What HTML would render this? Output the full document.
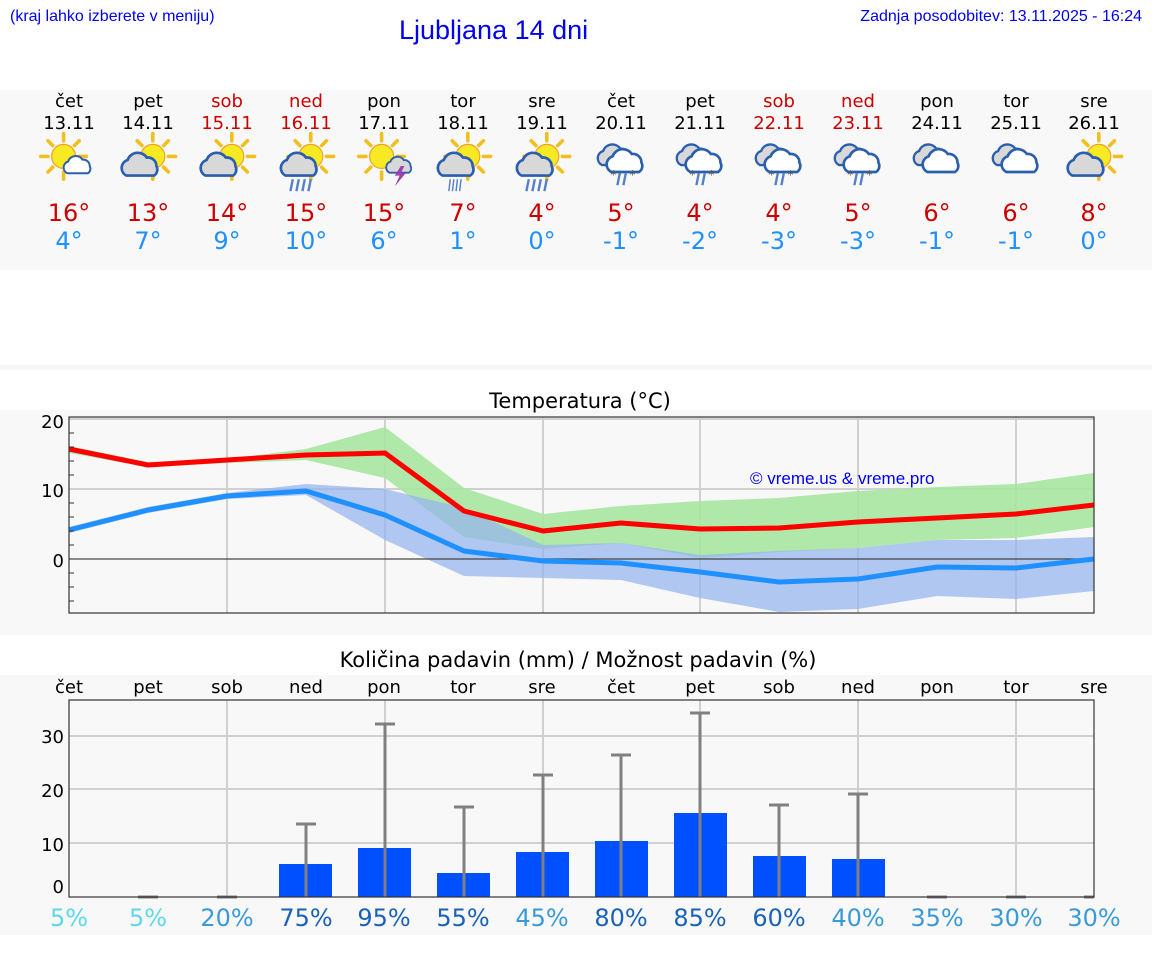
<!DOCTYPE html>
<html><head><meta charset="utf-8"><style>
body{margin:0;background:#fff;width:1152px;height:975px;overflow:hidden;font-family:"DejaVu Sans","Liberation Sans",sans-serif}
svg{position:absolute;left:0;top:0}
</style></head><body>
<svg width="1152" height="975" viewBox="0 0 1152 975" xmlns="http://www.w3.org/2000/svg">
<defs>
<g id="sun"><g stroke="#f0c020" stroke-width="3" stroke-linecap="round">
<line x1="0" y1="-19" x2="0" y2="-13"/><line x1="0" y1="13" x2="0" y2="19"/><line x1="-19" y1="0" x2="-13" y2="0"/><line x1="13" y1="0" x2="19" y2="0"/>
<line x1="-13" y1="-13" x2="-9" y2="-9"/><line x1="13" y1="13" x2="9" y2="9"/><line x1="-13" y1="13" x2="-9" y2="9"/><line x1="13" y1="-13" x2="9" y2="-9"/></g>
<circle r="10" fill="#f7ea22" stroke="#f0a030" stroke-width="1"/></g>
<path id="cloud" d="M-12,8 a7,7 0 0 1 1,-13 a9,9 0 0 1 16,-2 a7,7 0 0 1 8,7 a6,6 0 0 1 -2,8 z" fill="#d8d8d8" stroke="#2b5fae" stroke-width="2.2"/>
<path id="wcloud" d="M-12,8 a7,7 0 0 1 1,-13 a9,9 0 0 1 16,-2 a7,7 0 0 1 8,7 a6,6 0 0 1 -2,8 z" fill="#fff" stroke="#2b5fae" stroke-width="2.2"/>
<g id="rain" stroke="#5580c8" stroke-width="2"><line x1="-6" y1="0" x2="-8" y2="10"/><line x1="-1" y1="0" x2="-3" y2="10"/><line x1="4" y1="0" x2="2" y2="10"/><line x1="9" y1="0" x2="7" y2="10"/></g>
<g id="sleet"><g stroke="#5580c8" stroke-width="2"><line x1="-1" y1="2" x2="-3" y2="12"/><line x1="4" y1="2" x2="2" y2="12"/></g><text x="-9" y="7" font-size="10" fill="#555">*</text><text x="7" y="7" font-size="10" fill="#555">*</text></g>
<g id="dcloud"><use href="#cloud" transform="translate(-5,-3) scale(0.9)"/><use href="#wcloud" transform="translate(4,2)"/></g>
</defs>
<!-- header -->
<text x="10" y="21" font-family="Liberation Sans" font-size="16" fill="#0000ee">(kraj lahko izberete v meniju)</text>
<text x="399" y="39" font-family="Liberation Sans" font-size="27" fill="#0000ee">Ljubljana 14 dni</text>
<text x="1142" y="21" font-family="Liberation Sans" font-size="16" fill="#0000ee" text-anchor="end">Zadnja posodobitev: 13.11.2025 - 16:24</text>
<rect x="0" y="90" width="1152" height="180" fill="#f8f8f8"/>
<rect x="0" y="365" width="1152" height="5" fill="#f6f6f6"/>
<g font-size="18" text-anchor="middle">
<text x="69" y="107">čet</text><text x="69" y="129">13.11</text>
<text x="148" y="107">pet</text><text x="148" y="129">14.11</text>
<text x="227" y="107" fill="#cc0000">sob</text><text x="227" y="129" fill="#cc0000">15.11</text>
<text x="306" y="107" fill="#cc0000">ned</text><text x="306" y="129" fill="#cc0000">16.11</text>
<text x="384" y="107">pon</text><text x="384" y="129">17.11</text>
<text x="463" y="107">tor</text><text x="463" y="129">18.11</text>
<text x="542" y="107">sre</text><text x="542" y="129">19.11</text>
<text x="621" y="107">čet</text><text x="621" y="129">20.11</text>
<text x="700" y="107">pet</text><text x="700" y="129">21.11</text>
<text x="779" y="107" fill="#cc0000">sob</text><text x="779" y="129" fill="#cc0000">22.11</text>
<text x="858" y="107" fill="#cc0000">ned</text><text x="858" y="129" fill="#cc0000">23.11</text>
<text x="937" y="107">pon</text><text x="937" y="129">24.11</text>
<text x="1016" y="107">tor</text><text x="1016" y="129">25.11</text>
<text x="1094" y="107">sre</text><text x="1094" y="129">26.11</text>
</g>
<g font-size="24" text-anchor="middle" fill="#cc0000">
<text x="69" y="221">16°</text><text x="148" y="221">13°</text><text x="227" y="221">14°</text><text x="306" y="221">15°</text><text x="384" y="221">15°</text><text x="463" y="221">7°</text><text x="542" y="221">4°</text><text x="621" y="221">5°</text><text x="700" y="221">4°</text><text x="779" y="221">4°</text><text x="858" y="221">5°</text><text x="937" y="221">6°</text><text x="1016" y="221">6°</text><text x="1094" y="221">8°</text>
</g>
<g font-size="24" text-anchor="middle" fill="#1e90ff">
<text x="69" y="249">4°</text><text x="148" y="249">7°</text><text x="227" y="249">9°</text><text x="306" y="249">10°</text><text x="384" y="249">6°</text><text x="463" y="249">1°</text><text x="542" y="249">0°</text><text x="621" y="249">-1°</text><text x="700" y="249">-2°</text><text x="779" y="249">-3°</text><text x="858" y="249">-3°</text><text x="937" y="249">-1°</text><text x="1016" y="249">-1°</text><text x="1094" y="249">0°</text>
</g>
<!-- icons -->
<g transform="translate(66,160) scale(1.2)"><use href="#sun" transform="translate(-2,-3)"/><use href="#wcloud" transform="translate(10,5) scale(0.75)"/></g>
<g transform="translate(148,160) scale(1.2)"><use href="#sun" transform="translate(4,-3)"/><use href="#cloud" transform="translate(-6,5)"/></g>
<g transform="translate(227,160) scale(1.2)"><use href="#sun" transform="translate(4,-3)"/><use href="#cloud" transform="translate(-6,5)"/></g>
<g transform="translate(306,160) scale(1.2)"><use href="#sun" transform="translate(4,-3)"/><use href="#cloud" transform="translate(-5,5)"/><use href="#rain" transform="translate(-5,16)"/></g>
<g transform="translate(384,160) scale(1.2)"><use href="#sun" transform="translate(-2,-3)"/><use href="#cloud" transform="translate(13,5) scale(0.7)"/><path d="M14,5 l-5,8 h4 l-4,9 l9,-11 h-4 l3,-6z" fill="#a040b0"/></g>
<g transform="translate(463,160) scale(1.2)"><use href="#sun" transform="translate(4,-3)"/><use href="#cloud" transform="translate(-5,5)"/><use href="#rain" transform="translate(-7,16) scale(0.6,1)"/></g>
<g transform="translate(542,160) scale(1.2)"><use href="#sun" transform="translate(4,-3)"/><use href="#cloud" transform="translate(-5,5)"/><use href="#rain" transform="translate(-5,16)"/></g>
<g transform="translate(621,160) scale(1.2)"><use href="#dcloud"/><use href="#sleet" transform="translate(0,9)"/></g>
<g transform="translate(700,160) scale(1.2)"><use href="#dcloud"/><use href="#sleet" transform="translate(0,9)"/></g>
<g transform="translate(779,160) scale(1.2)"><use href="#dcloud"/><use href="#sleet" transform="translate(0,9)"/></g>
<g transform="translate(858,160) scale(1.2)"><use href="#dcloud"/><use href="#sleet" transform="translate(0,9)"/></g>
<g transform="translate(937,160) scale(1.2)"><use href="#dcloud"/></g>
<g transform="translate(1016,160) scale(1.2)"><use href="#dcloud"/></g>
<g transform="translate(1094,160) scale(1.2)"><use href="#sun" transform="translate(4,-3)"/><use href="#cloud" transform="translate(-6,5)"/></g>

<!-- temperature chart -->
<rect x="0" y="410" width="1152" height="225" fill="#f8f8f8"/>
<text x="580" y="408" font-size="21" text-anchor="middle">Temperatura (°C)</text>
<g stroke="#d0d0d0" stroke-width="2">
<line x1="69" y1="489" x2="1094" y2="489"/><line x1="69" y1="419" x2="1094" y2="419"/>
<line x1="227" y1="417" x2="227" y2="613"/><line x1="385" y1="417" x2="385" y2="613"/><line x1="543" y1="417" x2="543" y2="613"/><line x1="700" y1="417" x2="700" y2="613"/><line x1="858" y1="417" x2="858" y2="613"/><line x1="1016" y1="417" x2="1016" y2="613"/>
</g>
<polygon fill="#a6e6a0" fill-opacity="0.9" points="69,446 148,462 227,459 306,449 385,427 464,488 543,514 621,506 700,501 779,498 858,491 937,487 1016,484 1094,473 1094,527 1016,538 937,540 858,548 779,552 700,558 621,543 543,549 464,537 385,478 306,460 227,463 148,467 69,453"/>
<polygon fill="#94b4ee" fill-opacity="0.72" points="69,527 148,507 227,493 306,484 385,489 464,508 543,545 621,543 700,555 779,551 858,548 937,540 1016,540 1094,537 1094,591 1016,599 937,596 858,609 779,612 700,598 621,580 543,578 464,576 385,540 306,495 227,499 148,513 69,533"/>
<line x1="69" y1="559" x2="1094" y2="559" stroke="#444" stroke-width="1.2"/>
<polyline fill="none" stroke="#ff0000" stroke-width="5" stroke-linejoin="round" points="69,449 148,465 227,460 306,455 385,453 464,511 543,531 621,523 700,529 779,528 858,522 937,518 1016,514 1094,505"/>
<polyline fill="none" stroke="#1e90ff" stroke-width="5" stroke-linejoin="round" points="69,530 148,510 227,496 306,491 385,515 464,551 543,561 621,563 700,572 779,582 858,579 937,567 1016,568 1094,559"/>
<rect x="69" y="417" width="1025" height="196" fill="none" stroke="#333" stroke-width="1.2"/>
<g stroke="#333" stroke-width="1">
<line x1="69" y1="433" x2="74" y2="433"/><line x1="69" y1="447" x2="74" y2="447"/><line x1="69" y1="461" x2="74" y2="461"/><line x1="69" y1="475" x2="74" y2="475"/><line x1="69" y1="503" x2="74" y2="503"/><line x1="69" y1="517" x2="74" y2="517"/><line x1="69" y1="531" x2="74" y2="531"/><line x1="69" y1="545" x2="74" y2="545"/><line x1="69" y1="573" x2="74" y2="573"/><line x1="69" y1="587" x2="74" y2="587"/><line x1="69" y1="601" x2="74" y2="601"/>
</g>
<g font-size="18" text-anchor="end"><text x="64" y="428">20</text><text x="64" y="497">10</text><text x="64" y="567">0</text></g>
<text x="750" y="484" font-family="Liberation Sans" font-size="17" fill="#0000ee">© vreme.us &amp; vreme.pro</text>

<!-- precipitation chart -->
<rect x="0" y="675" width="1152" height="260" fill="#f8f8f8"/>
<text x="578" y="667" font-size="21" text-anchor="middle">Količina padavin (mm) / Možnost padavin (%)</text>
<g font-size="18" text-anchor="middle">
<text x="69" y="693">čet</text><text x="148" y="693">pet</text><text x="227" y="693">sob</text><text x="306" y="693">ned</text><text x="384" y="693">pon</text><text x="463" y="693">tor</text><text x="542" y="693">sre</text><text x="621" y="693">čet</text><text x="700" y="693">pet</text><text x="779" y="693">sob</text><text x="858" y="693">ned</text><text x="937" y="693">pon</text><text x="1016" y="693">tor</text><text x="1094" y="693">sre</text>
</g>
<g stroke="#d0d0d0" stroke-width="2">
<line x1="69" y1="736" x2="1094" y2="736"/><line x1="69" y1="789" x2="1094" y2="789"/><line x1="69" y1="843" x2="1094" y2="843"/>
<line x1="227" y1="700" x2="227" y2="897"/><line x1="385" y1="700" x2="385" y2="897"/><line x1="543" y1="700" x2="543" y2="897"/><line x1="700" y1="700" x2="700" y2="897"/><line x1="858" y1="700" x2="858" y2="897"/><line x1="1016" y1="700" x2="1016" y2="897"/>
</g>
<g fill="#0050ff">
<rect x="279" y="864" width="53" height="33"/><rect x="358" y="848" width="53" height="49"/><rect x="437" y="873" width="53" height="24"/><rect x="516" y="852" width="53" height="45"/><rect x="595" y="841" width="53" height="56"/><rect x="674" y="813" width="53" height="84"/><rect x="753" y="856" width="53" height="41"/><rect x="832" y="859" width="53" height="38"/>
</g>
<g stroke="#808080" stroke-width="3">
<line x1="306" y1="824" x2="306" y2="897"/><line x1="296" y1="824" x2="316" y2="824"/>
<line x1="385" y1="724" x2="385" y2="897"/><line x1="375" y1="724" x2="395" y2="724"/>
<line x1="464" y1="807" x2="464" y2="897"/><line x1="454" y1="807" x2="474" y2="807"/>
<line x1="543" y1="775" x2="543" y2="897"/><line x1="533" y1="775" x2="553" y2="775"/>
<line x1="621" y1="755" x2="621" y2="897"/><line x1="611" y1="755" x2="631" y2="755"/>
<line x1="700" y1="713" x2="700" y2="897"/><line x1="690" y1="713" x2="710" y2="713"/>
<line x1="779" y1="805" x2="779" y2="897"/><line x1="769" y1="805" x2="789" y2="805"/>
<line x1="858" y1="794" x2="858" y2="897"/><line x1="848" y1="794" x2="868" y2="794"/>
<line x1="138" y1="897" x2="158" y2="897"/><line x1="217" y1="897" x2="237" y2="897"/><line x1="927" y1="897" x2="947" y2="897"/><line x1="1006" y1="897" x2="1026" y2="897"/><line x1="1084" y1="897" x2="1094" y2="897"/>
</g>
<rect x="69" y="700" width="1025" height="197" fill="none" stroke="#333" stroke-width="1.2"/>
<g font-size="18" text-anchor="end"><text x="64" y="743">30</text><text x="64" y="797">20</text><text x="64" y="851">10</text><text x="64" y="893">0</text></g>
<g font-size="24" text-anchor="middle">
<text x="69" y="926" fill="#5dd8ea">5%</text><text x="148" y="926" fill="#5dd8ea">5%</text><text x="227" y="926" fill="#3a9ad8">20%</text><text x="306" y="926" fill="#1a62b8">75%</text><text x="384" y="926" fill="#1a62b8">95%</text><text x="463" y="926" fill="#1a62b8">55%</text><text x="542" y="926" fill="#3a9ad8">45%</text><text x="621" y="926" fill="#1a62b8">80%</text><text x="700" y="926" fill="#1a62b8">85%</text><text x="779" y="926" fill="#1a62b8">60%</text><text x="858" y="926" fill="#3a9ad8">40%</text><text x="937" y="926" fill="#3a9ad8">35%</text><text x="1016" y="926" fill="#3a9ad8">30%</text><text x="1094" y="926" fill="#3a9ad8">30%</text>
</g>
</svg>
</body></html>
